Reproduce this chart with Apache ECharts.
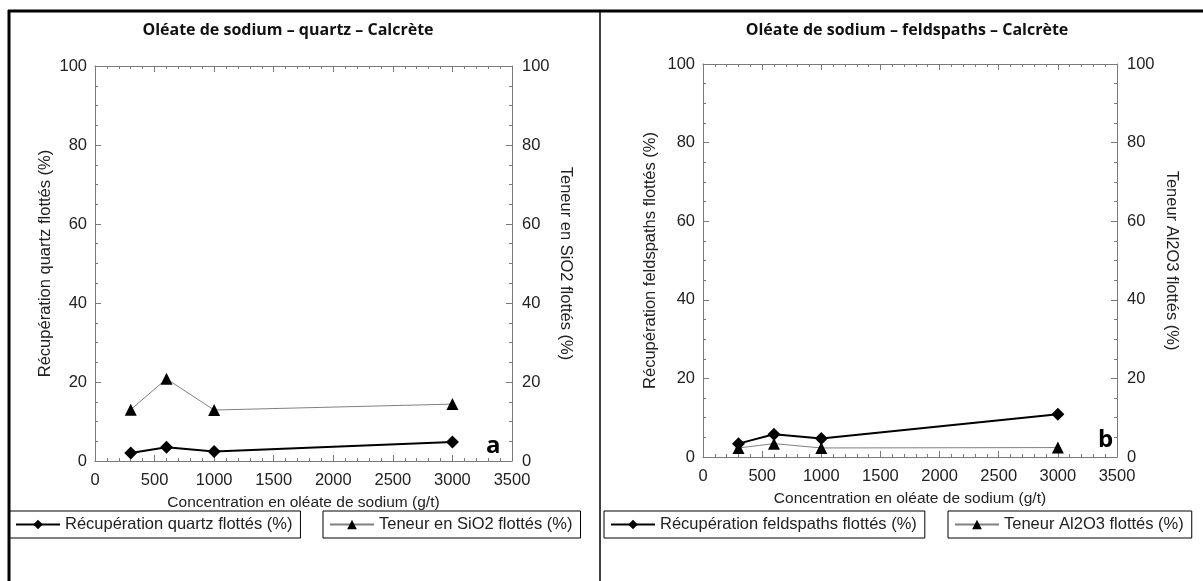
<!DOCTYPE html>
<html>
<head>
<meta charset="utf-8">
<script src="https://cdn.jsdelivr.net/npm/echarts@6/dist/echarts.min.js"></script>
<style>
  html, body { margin: 0; padding: 0; background: #fff; }
  #chart { width: 1203px; height: 581px; }
</style>
</head>
<body>
<div id="chart"></div>
<script>
// concentrations (g/t)
const concentrations = [300, 600, 1000, 3000];

// panel a : quartz
const recupQuartz = [2.0, 3.5, 2.4, 4.8];
const teneurSiO2 = [13.0, 20.8, 12.9, 14.4];

// panel b : feldspaths
const recupFeldspaths = [3.4, 5.8, 4.7, 10.9];
const teneurAl2O3 = [2.3, 3.4, 2.3, 2.4];

const titles = ['Oléate de sodium – quartz – Calcrète', 'Oléate de sodium – feldspaths – Calcrète'];
const xName = 'Concentration en oléate de sodium (g/t)';
const recupNames = ['Récupération quartz flottés (%)', 'Récupération feldspaths flottés (%)'];
const teneurNames = ['Teneur en SiO2 flottés (%)', 'Teneur Al2O3 flottés (%)'];
const panelLetters = ['a', 'b'];

const font = '"Liberation Sans", Arial, sans-serif';
const fs = 16.5;
const axisGray = '#7a7a7a';

const grids = [
  { left: 95, top: 66, width: 417, height: 395 },
  { left: 703, top: 64, width: 414, height: 393 }
];
const titleCenters = [283, 902];
const leftNameGaps = [41, 44];
const rightNameGaps = [45, 46];

function pairs(xs, ys) {
  return xs.map((x, i) => [x, ys[i]]);
}

let xAxes = [], yAxes = [], series = [], legends = [], titleOpts = [], graphics = [];

grids.forEach((g, i) => {
  const baseX = {
    gridIndex: i, type: 'value', min: 0, max: 3500, interval: 500,
    axisLine: { show: true, onZero: false, lineStyle: { color: axisGray, width: 1 } },
    axisTick: { show: true, inside: true, length: 6, lineStyle: { color: axisGray } },
    minorTick: { show: true, splitNumber: 5, length: 3, lineStyle: { color: axisGray } },
    splitLine: { show: false }
  };
  xAxes.push(Object.assign({}, baseX, {
    position: 'bottom',
    axisLabel: { color: '#222', fontSize: fs, fontFamily: font, margin: 11, formatter: v => String(v) },
    name: xName, nameLocation: 'middle', nameGap: 34,
    nameTextStyle: { color: '#222', fontSize: 15.5, fontFamily: font }
  }));
  xAxes.push(Object.assign({}, baseX, { position: 'top', axisLabel: { show: false } }));

  const baseY = {
    gridIndex: i, type: 'value', min: 0, max: 100, interval: 20,
    axisLine: { show: true, onZero: false, lineStyle: { color: axisGray, width: 1 } },
    axisTick: { show: true, inside: true, length: 6, lineStyle: { color: axisGray } },
    minorTick: { show: true, splitNumber: 4, length: 3, lineStyle: { color: axisGray } },
    splitLine: { show: false },
    nameLocation: 'middle',
    nameTextStyle: { color: '#222', fontSize: fs, fontFamily: font }
  };
  yAxes.push(Object.assign({}, baseY, {
    position: 'left', name: recupNames[i], nameGap: leftNameGaps[i],
    axisLabel: { color: '#222', fontSize: fs, fontFamily: font, margin: 8 }
  }));
  yAxes.push(Object.assign({}, baseY, {
    position: 'right', name: teneurNames[i], nameGap: rightNameGaps[i], nameRotate: -90,
    axisLabel: { color: '#222', fontSize: fs, fontFamily: font, margin: 10 }
  }));

  titleOpts.push({
    text: titles[i], left: titleCenters[i], top: 17, textAlign: 'center',
    textStyle: { fontSize: 16, fontWeight: 'bold', color: '#111', fontFamily: '"Open Sans", "Noto Sans", sans-serif' }
  });
});

const recupData = [recupQuartz, recupFeldspaths];
const teneurData = [teneurSiO2, teneurAl2O3];

[0, 1].forEach(i => {
  series.push({
    name: recupNames[i], type: 'line',
    xAxisIndex: i * 2, yAxisIndex: i * 2,
    data: pairs(concentrations, recupData[i]),
    symbol: 'diamond', symbolSize: 13,
    lineStyle: { color: '#000', width: 2 },
    itemStyle: { color: '#000' },
    z: 3
  });
  series.push({
    name: teneurNames[i], type: 'line',
    xAxisIndex: i * 2, yAxisIndex: i * 2 + 1,
    data: pairs(concentrations, teneurData[i]),
    symbol: 'triangle', symbolSize: 12,
    lineStyle: { color: '#808080', width: 1 },
    itemStyle: { color: '#000' },
    z: 2
  });
});

const legendBoxes = [
  { name: recupNames[0], left: 9, top: 511 },
  { name: teneurNames[0], left: 323, top: 511 },
  { name: recupNames[1], left: 604, top: 511 },
  { name: teneurNames[1], left: 948, top: 511 }
];
legendBoxes.forEach(b => {
  legends.push({
    data: [b.name], left: b.left, top: b.top,
    borderColor: '#000', borderWidth: 1, padding: [5, 8, 5, 6],
    itemWidth: 44, itemHeight: 12, itemGap: 4,
    textStyle: { color: '#222', fontSize: fs, fontFamily: font },
    selectedMode: false
  });
});

// cadre
graphics.push(
  { type: 'line', shape: { x1: 8, y1: 11, x2: 1203, y2: 11 }, style: { stroke: '#000', lineWidth: 3 } },
  { type: 'line', shape: { x1: 9, y1: 10, x2: 9, y2: 581 }, style: { stroke: '#000', lineWidth: 3 } },
  { type: 'line', shape: { x1: 600, y1: 11, x2: 600, y2: 581 }, style: { stroke: '#000', lineWidth: 1.5 } }
);
const letterPos = [[486, 434], [1098, 428]];
panelLetters.forEach((l, i) => {
  graphics.push({
    type: 'text', left: letterPos[i][0], top: letterPos[i][1],
    style: { text: l, fontSize: 24, fontWeight: 'bold', fill: '#000', fontFamily: '"Open Sans", sans-serif' }
  });
});

const chart = echarts.init(document.getElementById('chart'), null, { renderer: 'canvas' });
chart.setOption({
  backgroundColor: '#fff',
  animation: false,
  title: titleOpts,
  grid: grids,
  xAxis: xAxes,
  yAxis: yAxes,
  legend: legends,
  series: series,
  graphic: graphics
});
</script>
</body>
</html>
